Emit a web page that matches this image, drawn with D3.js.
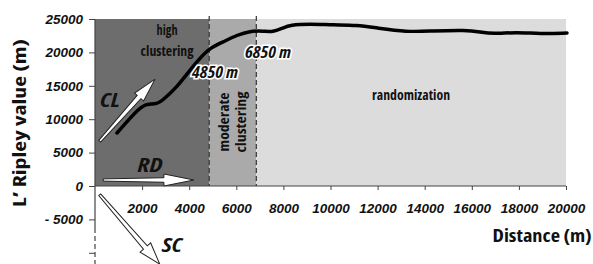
<!DOCTYPE html>
<html>
<head>
<meta charset="utf-8">
<script src="https://cdn.jsdelivr.net/npm/d3@7"></script>
<style>
  body { margin: 0; background: #fff; }
  svg { display: block; font-family: "Open Sans", sans-serif; }
  .narrow { font-stretch: condensed; }
</style>
</head>
<body>
<script>
// L' Ripley curve (distance m, value m)
const distances = [934, 1911, 2208, 2633, 2888, 3482, 4034, 4459, 4883, 5435, 6030, 6582, 7134, 7558, 7983, 8280, 9130, 10106, 11125, 11975, 13248, 14225, 15796, 16348, 16900, 17919, 18896, 20042];
const ripley = [7934, 11826, 12275, 12275, 12874, 14820, 17365, 19160, 20659, 21557, 22605, 23204, 23204, 23054, 23653, 24102, 24251, 24102, 24102, 23653, 23054, 23204, 23353, 23054, 22754, 23054, 22754, 22904];

const xTicks = [2000, 4000, 6000, 8000, 10000, 12000, 14000, 16000, 18000, 20000];
const yTicks = [25000, 20000, 15000, 10000, 5000, 0, -5000, -10000];
const yTickLabels = ["25000", "20000", "15000", "10000", "5000", "0", "- 5000", ""];

// zones of clustering
const zoneStarts = [0, 4850, 6850];
const zoneEnds = [4850, 6850, 20000];
const zoneColors = ["#6d6d6d", "#aaaaab", "#dddcdd"];
const thresholds = [4850, 6850];

const w = 593;
const h = 264;

const xScale = d3.scaleLinear().domain([0, 20000]).range([95, 566]);
const yScale = d3.scaleLinear().domain([0, 25000]).range([186, 19]);

const svg = d3.select("body")
    .append("svg")
    .attr("width", w)
    .attr("height", h);

// background zones
svg.selectAll("rect.zone")
    .data(zoneStarts)
    .enter()
    .append("rect")
    .attr("class", "zone")
    .attr("x", (d, i) => xScale(d))
    .attr("y", yScale(25000))
    .attr("width", (d, i) => xScale(zoneEnds[i]) - xScale(d))
    .attr("height", yScale(0) - yScale(25000))
    .attr("fill", (d, i) => zoneColors[i]);

// threshold dashed lines
svg.selectAll("line.thr")
    .data(thresholds)
    .enter()
    .append("line")
    .attr("class", "thr")
    .attr("x1", d => xScale(d)).attr("x2", d => xScale(d))
    .attr("y1", yScale(25000) - 3).attr("y2", yScale(0))
    .attr("stroke", "#333")
    .attr("stroke-width", 1.2)
    .attr("stroke-dasharray", "5,3");

// x axis
const xAxis = d3.axisBottom(xScale).tickValues(xTicks).tickSize(4).tickFormat(d3.format("d"));
const gx = svg.append("g").attr("transform", `translate(0,${yScale(0)})`).call(xAxis);
gx.select(".domain").attr("stroke", "#444").attr("d", `M${xScale(0)},0H${xScale(20000)}`);
gx.selectAll(".tick line").attr("stroke", "#444");
gx.selectAll("text")
    .attr("y", 17)
    .attr("dy", "0.71em")
    .style("font-size", "13.5px")
    .style("font-weight", "700")
    .style("font-style", "italic")
    .attr("fill", "#111");

// y axis
const yAxis = d3.axisLeft(yScale).tickValues(yTicks).tickSize(6)
    .tickFormat((d, i) => yTickLabels[i]);
const gy = svg.append("g").attr("transform", `translate(${xScale(0)},0)`).call(yAxis);
gy.select(".domain").remove();
gy.selectAll(".tick line").attr("stroke", "#444");
gy.selectAll("text")
    .attr("x", -12)
    .style("font-size", "13.5px")
    .style("font-weight", "700")
    .style("font-style", "italic")
    .attr("fill", "#111");

svg.append("line")
    .attr("x1", xScale(0)).attr("x2", xScale(0))
    .attr("y1", yScale(25000)).attr("y2", yScale(-6300))
    .attr("stroke", "#444").attr("stroke-width", 1.2);
svg.append("line")
    .attr("x1", xScale(0)).attr("x2", xScale(0))
    .attr("y1", yScale(-6300)).attr("y2", h)
    .attr("stroke", "#444").attr("stroke-width", 1.2)
    .attr("stroke-dasharray", "5,3");

// curve
const line = d3.line()
    .x((d, i) => xScale(d))
    .y((d, i) => yScale(ripley[i]))
    .curve(d3.curveBasis);
svg.append("path")
    .attr("d", line(distances))
    .attr("fill", "none")
    .attr("stroke", "#000")
    .attr("stroke-width", 3.5)
    .attr("stroke-linecap", "round");

// arrows (data coords: tail x, tail y, head x, head y)
const arrows = [
    { name: "CL", from: [200, 6700], to: [2550, 16000], shaft: 5, head: 12, len: 24 },
    { name: "RD", from: [350, 900], to: [4200, 900], shaft: 4.5, head: 12, len: 30 },
    { name: "SC", from: [200, -1300], to: [2750, -11700], shaft: 5, head: 14, len: 22 }
];
arrows.forEach(a => {
    const x1 = xScale(a.from[0]), y1 = yScale(a.from[1]);
    const x2 = xScale(a.to[0]), y2 = yScale(a.to[1]);
    const ang = Math.atan2(y2 - y1, x2 - x1);
    const L = Math.hypot(x2 - x1, y2 - y1);
    const s = a.shaft / 2, hh = a.head / 2;
    const pts = [[0, -s * 0.5], [L - a.len, -s], [L - a.len, -hh], [L, 0], [L - a.len, hh], [L - a.len, s], [0, s * 0.5]];
    svg.append("polygon")
        .attr("points", pts.map(p => p.join(",")).join(" "))
        .attr("transform", `translate(${x1},${y1}) rotate(${ang * 180 / Math.PI})`)
        .attr("fill", "#fff")
        .attr("stroke", "#222")
        .attr("stroke-width", 1);
});

// annotation text
const bold = (t, x, y, size, style, len) => {
    const el = svg.append("text")
        .attr("class", "narrow")
        .attr("x", x).attr("y", y)
        .attr("text-anchor", "middle")
        .style("font-size", size + "px")
        .style("font-weight", "700")
        .style("font-style", style || "normal")
        .attr("fill", "#111")
        .text(t);
    if (len) el.attr("textLength", len).attr("lengthAdjust", "spacingAndGlyphs");
    return el;
};

bold("high", xScale(3060), 35, 15, null, 21);
bold("clustering", xScale(3060), 56, 15, null, 53);
bold("randomization", xScale(13420), 100, 15, null, 78);
bold("CL", 110, 107, 19, "italic", 20);
bold("RD", 150, 172, 19, "italic", 25);
bold("SC", 172, 252, 19, "italic", 20);

[["4850 m", 215, 78], ["6850 m", 268, 58]].forEach(t => {
    bold(t[0], t[1], t[2], 16, "italic", 46)
        .attr("stroke", "#fff").attr("stroke-width", 3).attr("paint-order", "stroke");
});

const mod = svg.append("g").attr("transform", `translate(${xScale(5850)},122) rotate(-90)`);
mod.append("text").attr("class", "narrow").attr("y", -4).attr("text-anchor", "middle")
    .attr("textLength", 59).attr("lengthAdjust", "spacingAndGlyphs")
    .style("font-size", "14px").style("font-weight", "700").attr("fill", "#111").text("moderate");
mod.append("text").attr("class", "narrow").attr("y", 13).attr("text-anchor", "middle")
    .attr("textLength", 61).attr("lengthAdjust", "spacingAndGlyphs")
    .style("font-size", "14px").style("font-weight", "700").attr("fill", "#111").text("clustering");

// axis titles
svg.append("text")
    .attr("transform", "translate(26,123) rotate(-90)")
    .attr("text-anchor", "middle")
    .attr("textLength", 168).attr("lengthAdjust", "spacingAndGlyphs")
    .style("font-size", "17px")
    .style("font-weight", "700")
    .attr("class", "narrow")
    .attr("fill", "#111")
    .text("L\u2019 Ripley value (m)");
svg.append("text")
    .attr("x", 542).attr("y", 242)
    .attr("text-anchor", "middle")
    .attr("textLength", 99).attr("lengthAdjust", "spacingAndGlyphs")
    .style("font-size", "17px")
    .style("font-weight", "700")
    .attr("class", "narrow")
    .attr("fill", "#111")
    .text("Distance (m)");
</script>
</body>
</html>
